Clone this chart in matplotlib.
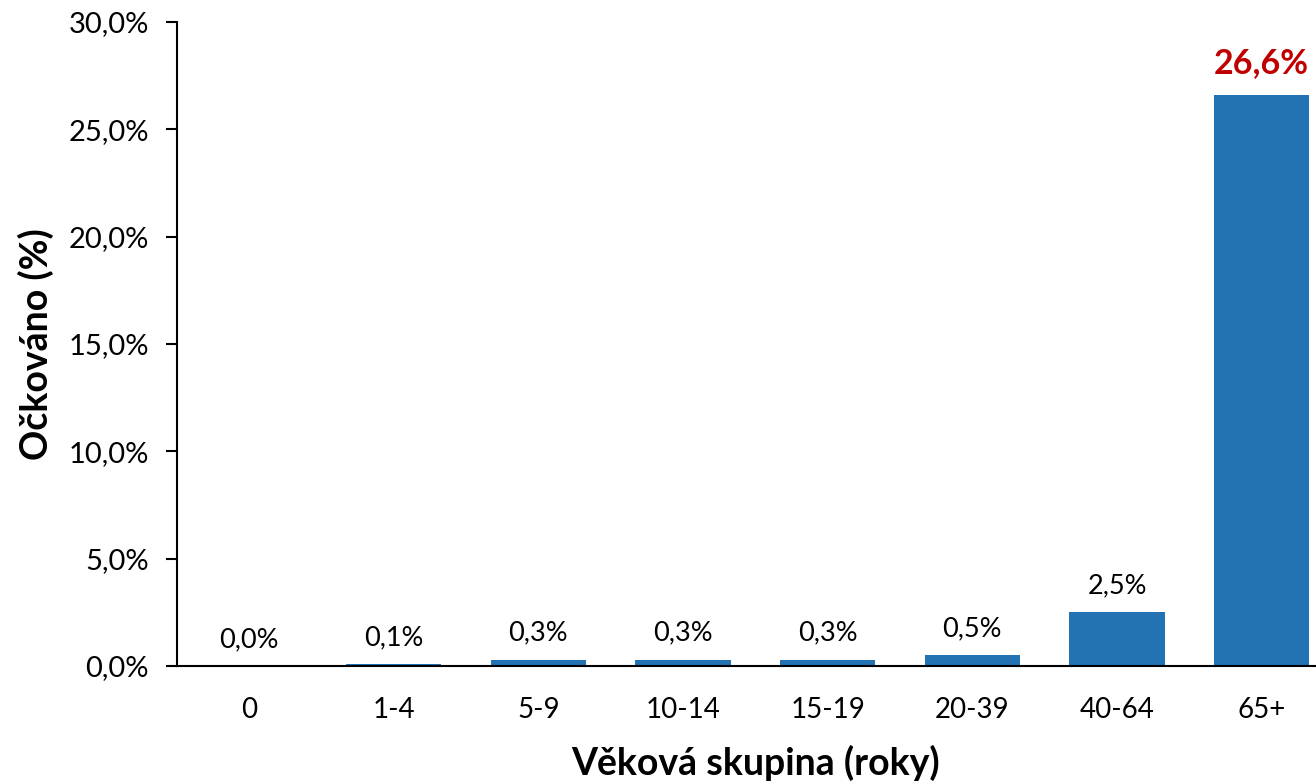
import numpy as np
import matplotlib.pyplot as plt

plt.rcParams['font.family'] = ['Lato', 'DejaVu Sans']

# Data
age_groups = ['0', '1-4', '5-9', '10-14', '15-19', '20-39', '40-64', '65+']
vaccinated = [0.0, 0.1, 0.3, 0.3, 0.3, 0.5, 2.5, 26.6]   # %
y_ticks = [0, 5, 10, 15, 20, 25, 30]

bar_color = '#2272b4'

fig = plt.figure(figsize=(13.16, 7.81), dpi=100)
ax = fig.add_axes([0.1342, 0.1473, 0.8795, 0.8245])

x = np.arange(len(age_groups))
ax.bar(x, vaccinated, 0.66, color=bar_color)

def fmt(v):
    return ('%.1f%%' % v).replace('.', ',')

for i, v in enumerate(vaccinated):
    if i == len(vaccinated) - 1:
        ax.text(i, v + 0.75, fmt(v), ha='center', va='bottom', fontsize=24.5,
                fontweight='bold', color='#c00000')
    else:
        ax.text(i, v + 0.65, fmt(v), ha='center', va='bottom', fontsize=19.5)

ax.set_xlim(-0.5, len(age_groups) - 0.5)
ax.set_ylim(0, 30)
ax.set_xticks(x)
ax.set_xticklabels(age_groups, fontsize=20)
ax.set_yticks(y_ticks)
ax.set_yticklabels([fmt(t) for t in y_ticks], fontsize=21)
ax.tick_params(axis='x', length=0, pad=22)
ax.tick_params(axis='y', length=8, width=1.5, pad=12)

for s in ['top', 'right']:
    ax.spines[s].set_visible(False)
for s in ['left', 'bottom']:
    ax.spines[s].set_linewidth(1.5)

ax.set_xlabel('Věková skupina (roky)', fontsize=27, fontweight='bold', labelpad=16)
ax.set_ylabel('Očkováno (%)', fontsize=27, fontweight='bold', labelpad=10)

plt.savefig('out.png', dpi=100)
